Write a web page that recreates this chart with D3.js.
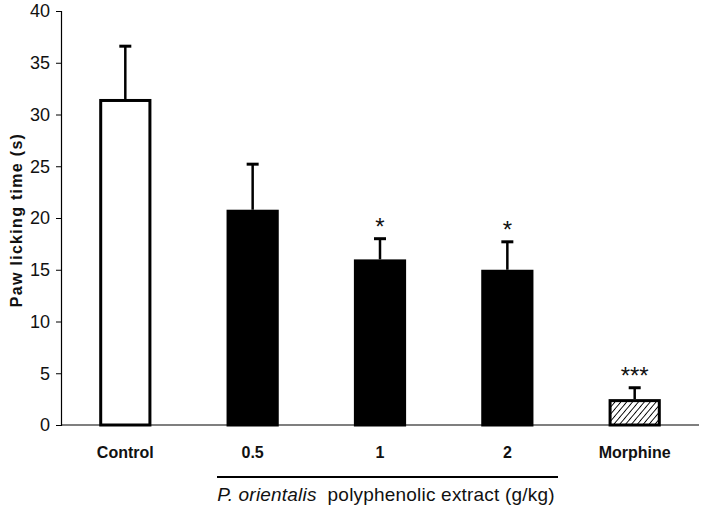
<!DOCTYPE html>
<html>
<head>
<meta charset="utf-8">
<script src="https://cdn.jsdelivr.net/npm/d3@7"></script>
<style>
  body { margin: 0; background: #fff; }
  svg { font-family: Arial, "Liberation Sans", sans-serif; }
</style>
</head>
<body>
<svg id="chart" width="701" height="513"></svg>
<script>
// data
var groups = ['Control', '0.5', '1', '2', 'Morphine'];
var means = [31.5, 20.8, 16.0, 15.0, 2.5];
var errors = [5.1, 4.4, 2.0, 2.7, 1.1];
var marks = ['', '', '*', '*', '***'];
var fills = ['white', 'black', 'black', 'black', 'url(#hatch)'];
var yTicks = [0, 5, 10, 15, 20, 25, 30, 35, 40];

var svg = d3.select('#chart');

// hatch pattern for the morphine bar
var pat = svg.append('defs').append('pattern')
  .attr('id', 'hatch')
  .attr('patternUnits', 'userSpaceOnUse')
  .attr('width', 4.5).attr('height', 4.5)
  .attr('patternTransform', 'rotate(40)');
pat.append('rect').attr('width', 4.5).attr('height', 4.5).attr('fill', 'white');
pat.append('line').attr('x1', 0).attr('y1', 0).attr('x2', 0).attr('y2', 4.5)
  .attr('stroke', 'black').attr('stroke-width', 1.8);

var x = d3.scaleBand().domain(groups).range([61, 699]).paddingInner(0.59).paddingOuter(0.3);
var y = d3.scaleLinear().domain([0, 40]).range([425, 11]);

// y axis
var yAxis = svg.append('g')
  .attr('transform', 'translate(61,0)')
  .call(d3.axisLeft(y).tickValues(yTicks).tickSize(5).tickPadding(6));
yAxis.select('.domain').attr('stroke', 'black').attr('stroke-width', 1.2);
yAxis.selectAll('line').attr('stroke', 'black');
yAxis.selectAll('text').attr('font-size', 18).attr('fill', '#111')
  .attr('font-family', 'Arial, "Liberation Sans", sans-serif');

// x baseline
svg.append('line')
  .attr('x1', 61).attr('x2', 699)
  .attr('y1', y(0)).attr('y2', y(0))
  .attr('stroke', 'black').attr('stroke-width', 1.2);

// error bars (upper only)
var eb = svg.append('g').selectAll('g').data(groups).enter().append('g');
eb.append('line')
  .attr('x1', (d) => x(d) + x.bandwidth() / 2)
  .attr('x2', (d, i) => x(d) + x.bandwidth() / 2)
  .attr('y1', (d, i) => y(means[i]))
  .attr('y2', (d, i) => y(means[i] + errors[i]))
  .attr('stroke', 'black').attr('stroke-width', 2.5);
eb.append('line')
  .attr('x1', (d) => x(d) + x.bandwidth() / 2 - 6)
  .attr('x2', (d) => x(d) + x.bandwidth() / 2 + 6)
  .attr('y1', (d, i) => y(means[i] + errors[i]))
  .attr('y2', (d, i) => y(means[i] + errors[i]))
  .attr('stroke', 'black').attr('stroke-width', 3);

// bars
svg.append('g').selectAll('rect').data(groups).enter().append('rect')
  .attr('x', (d) => x(d) + 1.5)
  .attr('width', x.bandwidth() - 3)
  .attr('y', (d, i) => y(means[i]) + 1.5)
  .attr('height', (d, i) => y(0) - y(means[i]) - 1.5)
  .attr('fill', (d, i) => fills[i])
  .attr('stroke', 'black').attr('stroke-width', 3);

// significance stars
svg.append('g').selectAll('text').data(groups).enter().append('text')
  .attr('x', (d) => x(d) + x.bandwidth() / 2)
  .attr('y', (d, i) => y(means[i] + errors[i]) - 4)
  .attr('text-anchor', 'middle')
  .attr('font-size', 24)
  .attr('fill', '#111')
  .text((d, i) => marks[i]);

// category labels
svg.append('g').selectAll('text').data(groups).enter().append('text')
  .attr('x', (d) => x(d) + x.bandwidth() / 2)
  .attr('y', 458)
  .attr('text-anchor', 'middle')
  .attr('font-size', 16).attr('font-weight', 'bold')
  .attr('fill', '#111')
  .text((d) => d);

// group bracket line and caption
svg.append('line')
  .attr('x1', 217).attr('x2', 558).attr('y1', 477).attr('y2', 477)
  .attr('stroke', 'black').attr('stroke-width', 2);

var cap = svg.append('text')
  .attr('x', 386).attr('y', 501)
  .attr('text-anchor', 'middle')
  .attr('font-size', 19).attr('letter-spacing', 0.2).attr('fill', '#111');
cap.append('tspan').attr('font-style', 'italic').text('P. orientalis');
cap.append('tspan').text('\u00a0 polyphenolic extract (g/kg)');

// y axis title
svg.append('text')
  .attr('transform', 'translate(22,220) rotate(-90)')
  .attr('text-anchor', 'middle')
  .attr('font-size', 16).attr('font-weight', 'bold')
  .attr('letter-spacing', 1.3)
  .attr('fill', '#111')
  .text('Paw licking time (s)');
</script>
</body>
</html>
